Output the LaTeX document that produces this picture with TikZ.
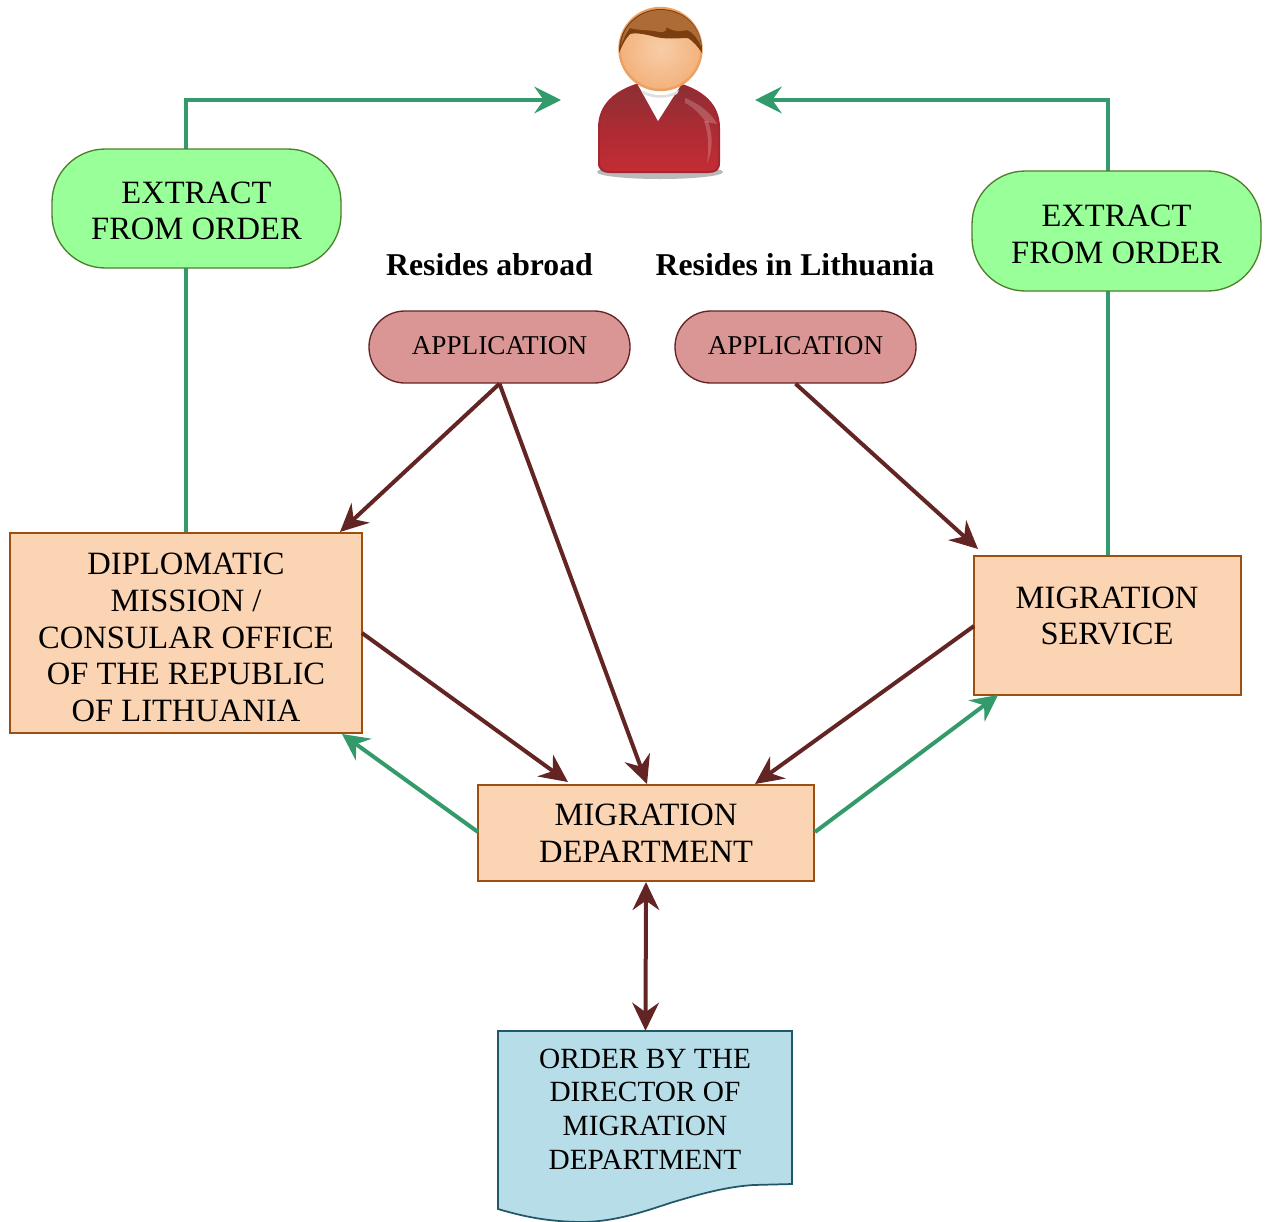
\documentclass[tikz,border=0pt]{standalone}
\usepackage{fontspec}
\setmainfont{Liberation Serif}
\usetikzlibrary{arrows.meta,backgrounds}
\definecolor{dkred}{HTML}{632523}
\definecolor{grn}{HTML}{339A6B}
\definecolor{boxfill}{HTML}{FBD4B4}
\definecolor{boxline}{HTML}{9C4F0E}
\definecolor{extfill}{HTML}{99FF99}
\definecolor{pillgreen}{HTML}{4F7F2F}
\definecolor{appfill}{HTML}{D99694}
\definecolor{docfill}{HTML}{B7DDE8}
\definecolor{docline}{HTML}{215868}
\definecolor{sweater}{HTML}{C42C34}
\definecolor{sweatertop}{HTML}{8A3034}
\definecolor{sweatermid}{HTML}{AD2B33}
\definecolor{sweaterline}{HTML}{A32630}
\definecolor{skin}{HTML}{F8CDA8}
\definecolor{skinout}{HTML}{F2B27C}
\definecolor{skinline}{HTML}{EDA05F}
\definecolor{hair}{HTML}{AD6B35}
\definecolor{hairdark}{HTML}{7A3E10}
\tikzset{
  px/.style={x=0.75pt,y=-0.75pt},
  txt/.style={inner sep=0pt,align=center,font=\fontsize{24.4}{27.5}\selectfont,text=black},
  apptxt/.style={inner sep=0pt,align=center,font=\fontsize{20.4}{24}\selectfont,text=black},
  doctxt/.style={inner sep=0pt,align=center,font=\fontsize{22}{25.2}\selectfont,text=black},
  headtxt/.style={inner sep=0pt,font=\fontsize{23.8}{27}\selectfont\bfseries,text=black},
  procbox/.style={draw=boxline,fill=boxfill,line width=1.5pt,inner sep=0pt,rectangle},
  extpill/.style={draw=pillgreen,fill=extfill,line width=1pt,inner sep=0pt,rectangle,rounded corners=40pt},
  apppill/.style={draw=dkred,fill=appfill,line width=1pt,inner sep=0pt,rectangle,rounded corners=26.9pt},
  grnline/.style={draw=grn,line width=3pt},
  grnarrow/.style={grnline,-{Stealth[length=20pt,width=20pt,inset=7pt]}},
  redarrow/.style={draw=dkred,line width=3pt,-{Stealth[length=21pt,width=20pt,inset=7pt]}},
  redboth/.style={draw=dkred,line width=3pt,{Stealth[length=21pt,width=20pt,inset=7pt]}-{Stealth[length=21pt,width=20pt,inset=7pt]}},
}
\begin{document}
\begin{tikzpicture}[px]
\useasboundingbox (0,0) rectangle (1270,1221);
% person
\fill[gray!55] (660,172) ellipse [x radius=63, y radius=7];
\draw[sweaterline,line width=1.5pt,top color=sweatertop,bottom color=sweater,middle color=sweatermid]
  (636,85) .. controls (615,92) and (599,105) .. (599,128) -- (599,163)
  .. controls (599,170) and (604,172) .. (610,172) -- (708,172)
  .. controls (715,172) and (719,170) .. (719,163) -- (719,128)
  .. controls (719,105) and (703,92) .. (682,85) -- cycle;
\fill[white] (638,85) -- (681,85) -- (658,121) -- cycle;
\fill[white,opacity=.2] (685,98) .. controls (700,104) and (712,114) .. (717,124) -- (706,122) .. controls (700,114) and (692,106) .. (685,103) -- cycle;
\fill[white,opacity=.2] (704,121) .. controls (709,135) and (709,150) .. (707,163) .. controls (713,150) and (713,135) .. (708,121) -- cycle;
\fill[gray!25] (641,90) .. controls (655,97) and (667,97) .. (679,90) -- (677,94) .. controls (667,99) and (655,99) .. (643,94) -- cycle;
\draw[skinline,line width=1.8pt,inner color=skin,outer color=skinout] (660.5,49) ellipse [x radius=41, y radius=41];
\fill[hairdark]
  (619,53) .. controls (618,25) and (640,9) .. (660,9) .. controls (683,9) and (703,25) .. (702,53)
  .. controls (698,47) and (694,42) .. (688,38) .. controls (680,38) and (664,40) .. (652,36)
  .. controls (640,33) and (634,33) .. (630,34)
  .. controls (625,39) and (622,46) .. (619,53) -- cycle;
\fill[hair]
  (621,46) .. controls (622,24) and (642,10) .. (660,10) .. controls (681,10) and (700,24) .. (701,46)
  .. controls (697,38) and (693,32) .. (687,30) .. controls (682,31) and (676,33) .. (666,27)
  .. controls (668,33) and (660,33) .. (655,31) .. controls (645,30) and (636,30) .. (630,28)
  .. controls (626,33) and (623,40) .. (621,46) -- cycle;
% boxes
\node[extpill,minimum width=216.75pt,minimum height=89.25pt] (ext1) at (196.5,208.5) {};
\node[txt] (ext1t) at (196.5,211) {EXTRACT\\FROM ORDER};
\node[extpill,minimum width=216.75pt,minimum height=90pt] (ext2) at (1116.5,231) {};
\node[txt] (ext2t) at (1116.5,234.5) {EXTRACT\\FROM ORDER};
\node[headtxt] (h1) at (489.5,265) {Resides abroad};
\node[headtxt] (h2) at (795,265) {Resides in Lithuania};
\node[apppill,minimum width=195.75pt,minimum height=54pt] (app1) at (499.5,347) {};
\node[apptxt] (app1t) at (499.5,346) {APPLICATION};
\node[apppill,minimum width=180.75pt,minimum height=54pt] (app2) at (795.5,347) {};
\node[apptxt] (app2t) at (795.5,346) {APPLICATION};
\node[procbox,minimum width=264pt,minimum height=150pt] (dip) at (186,633) {};
\node[txt] (dipt) at (186,637.5) {DIPLOMATIC\\MISSION /\\CONSULAR OFFICE\\OF THE REPUBLIC\\OF LITHUANIA};
\node[procbox,minimum width=200.25pt,minimum height=104.25pt] (svc) at (1107.5,625.5) {};
\node[txt] (svct) at (1107,616) {MIGRATION\\SERVICE};
\node[procbox,minimum width=252pt,minimum height=72pt] (dept) at (646,833) {};
\node[txt] (deptt) at (646,833.5) {MIGRATION\\DEPARTMENT};
% document
\path[fill=docfill,draw=docline,line width=1.3pt]
  (498,1031) -- (792,1031) -- (792,1184) -- (753,1185)
  .. controls (725,1187) and (700,1194) .. (670,1203)
  .. controls (640,1213) and (615,1221) .. (585,1222)
  .. controls (550,1222) and (525,1217) .. (498,1209) -- cycle;
\node[inner sep=0pt,minimum width=220.5pt,minimum height=113.25pt] (doc) at (645.5,1106.5) {};
\node[doctxt] (doct) at (645,1109) {ORDER BY THE\\DIRECTOR OF\\MIGRATION\\DEPARTMENT};
% free ends
\coordinate (pl) at (561,100);
\coordinate (pr) at (755,100);
\coordinate (a1) at (340,532);
\coordinate (a2) at (647,784);
\coordinate (a3) at (978,549);
\coordinate (b1s) at (362,633);
\coordinate (b1e) at (568,782);
\coordinate (b2s) at (974,626);
\coordinate (b2e) at (755,784);
\coordinate (c1s) at (478,832);
\coordinate (c1e) at (342,734);
\coordinate (c2s) at (815,832);
\coordinate (c2e) at (998,695);
\begin{scope}[on background layer]
\draw[grnarrow] (dip.north) |- (pl);
\draw[grnarrow] (svc.north) |- (pr);
\end{scope}
\draw[redarrow] (app1.south) -- (a1);
\draw[redarrow] (app1.south) -- (a2);
\draw[redarrow] (app2.south) -- (a3);
\draw[redarrow] (b1s) -- (b1e);
\draw[redarrow] (b2s) -- (b2e);
\draw[grnarrow] (c1s) -- (c1e);
\draw[grnarrow] (c2s) -- (c2e);
\draw[redboth] (dept.south) -- (doc.north);
\end{tikzpicture}
\end{document}
